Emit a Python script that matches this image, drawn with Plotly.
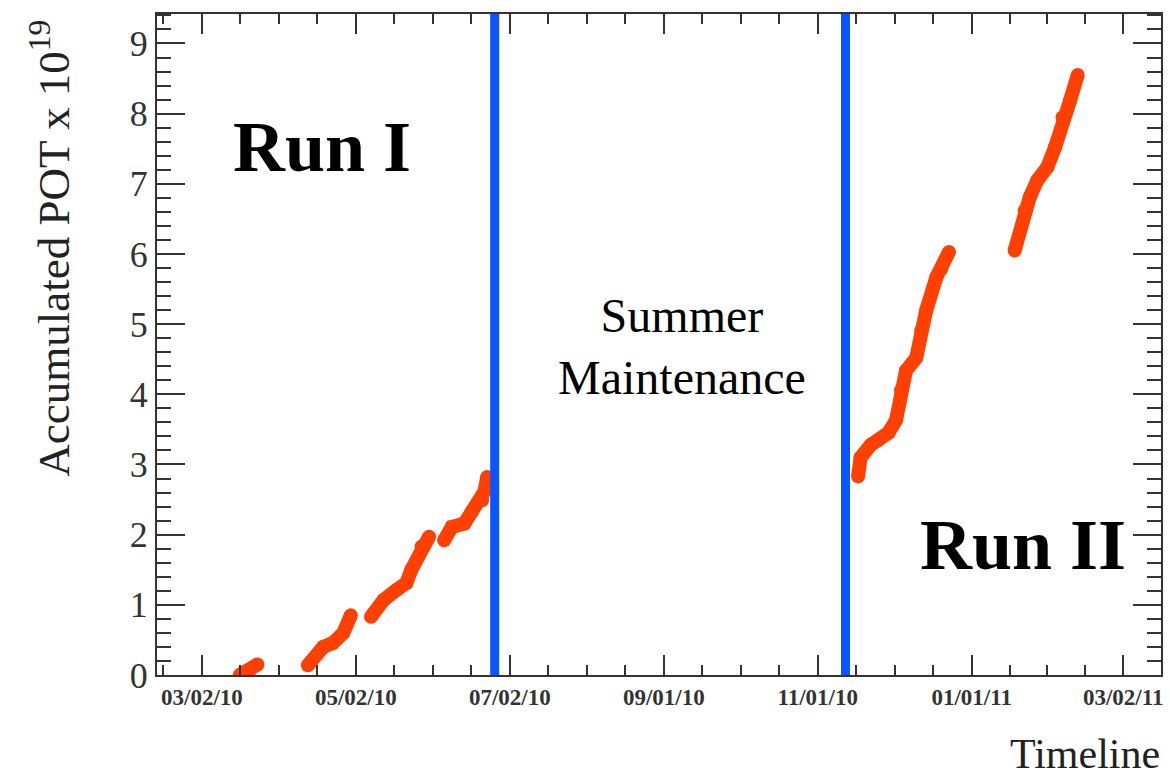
import pandas as pd
import plotly.graph_objects as go

# Accumulated protons on target (units of 1e19), one list per running period
run1a_dates = ["2010-03-17", "2010-03-21", "2010-03-24"]
run1a_pot = [0.00, 0.07, 0.15]

run1b_dates = ["2010-04-13", "2010-04-19", "2010-04-23", "2010-04-27", "2010-04-30"]
run1b_pot = [0.14, 0.40, 0.46, 0.60, 0.85]

run1c_dates = ["2010-05-08", "2010-05-13", "2010-05-18", "2010-05-22", "2010-05-24",
               "2010-05-28", "2010-05-31"]
run1c_pot = [0.83, 1.07, 1.21, 1.31, 1.50, 1.83, 1.97]

run1d_dates = ["2010-06-06", "2010-06-09", "2010-06-14", "2010-06-17", "2010-06-21",
               "2010-06-22", "2010-06-23"]
run1d_pot = [1.92, 2.11, 2.16, 2.33, 2.49, 2.62, 2.82]

run2a_dates = ["2010-11-17", "2010-11-18", "2010-11-22", "2010-11-25", "2010-11-29",
               "2010-12-02", "2010-12-04", "2010-12-06", "2010-12-10", "2010-12-12",
               "2010-12-14", "2010-12-18", "2010-12-20", "2010-12-23"]
run2a_pot = [2.83, 3.10, 3.28, 3.35, 3.45, 3.63, 4.06, 4.34, 4.52, 4.91,
             5.20, 5.67, 5.79, 6.03]

run2b_dates = ["2011-01-18", "2011-01-22", "2011-01-24", "2011-01-27", "2011-01-31",
               "2011-02-03", "2011-02-06", "2011-02-09", "2011-02-12"]
run2b_pot = [6.05, 6.62, 6.81, 7.05, 7.24, 7.52, 7.95, 8.19, 8.55]

segments = [
    (run1a_dates, run1a_pot), (run1b_dates, run1b_pot), (run1c_dates, run1c_pot),
    (run1d_dates, run1d_pot), (run2a_dates, run2a_pot), (run2b_dates, run2b_pot),
]

# Boundaries of the summer shutdown
shutdown_dates = ["2010-06-26", "2010-11-12"]

# Axis labelling
x_tick_dates = ["2010-03-02", "2010-05-02", "2010-07-02", "2010-09-01",
                "2010-11-01", "2011-01-01", "2011-03-02"]
x_tick_text = ["03/02/10", "05/02/10", "07/02/10", "09/01/10",
               "11/01/10", "01/01/11", "03/02/11"]
y_tick_vals = [0, 1, 2, 3, 4, 5, 6, 7, 8, 9]

x_range = ["2010-02-12 05:00", "2011-03-17 00:00"]
y_range = [0, 9.42]

POT_COLOR = "#ff4000"
LINE_COLOR = "#0a55ff"
SERIF = "Liberation Serif, Times New Roman, serif"

# Minor ticks: quarter divisions between labelled dates, plus one beyond each end
majors = pd.to_datetime(x_tick_dates)
minor_ticks = []
for a, b in zip(majors[:-1], majors[1:]):
    step = (b - a) / 4
    minor_ticks += [a + step * k for k in range(1, 4)]
first_step = (majors[1] - majors[0]) / 4
last_step = (majors[-1] - majors[-2]) / 4
minor_ticks = [majors[0] - first_step] + minor_ticks + [majors[-1] + last_step]
minor_ticks = [t.strftime("%Y-%m-%d %H:%M") for t in minor_ticks]

fig = go.Figure()

for dates, pot in segments:
    fig.add_trace(go.Scatter(
        x=dates, y=pot, mode="lines+markers",
        line=dict(color=POT_COLOR, width=14),
        marker=dict(color=POT_COLOR, size=14, line=dict(width=0)),
        showlegend=False, hoverinfo="x+y",
    ))

for d in shutdown_dates:
    fig.add_shape(type="line", xref="x", yref="paper", x0=d, x1=d, y0=0, y1=1,
                  line=dict(color=LINE_COLOR, width=9), layer="above")

W, H = 1170, 777
L, R, T, B = 157, 7, 14, 102
pw, ph = W - L - R, H - T - B


def to_paper(px, py):
    return (px - L) / pw, (H - B - py) / ph


labels = [
    ("<b>Run I</b>", 322, 147, 72),
    ("<b>Run II</b>", 1025, 545, 72),
    ("Summer<br>Maintenance", 683, 346, 48),
]

fig_annotations = []
for text, px, py, size in labels:
    ax, ay = to_paper(px, py)
    fig_annotations.append(dict(text=text, x=ax, y=ay, xref="paper", yref="paper",
                                xanchor="center", yanchor="middle", showarrow=False,
                                font=dict(size=size, family=SERIF, color="black")))

tx, ty = to_paper(1164, 754)
fig_annotations.append(dict(text="Timeline", x=tx, y=ty, xref="paper", yref="paper",
                            xanchor="right", yanchor="middle", showarrow=False,
                            font=dict(size=42, family=SERIF, color="#222")))
yx, yy = to_paper(50, 18)
fig_annotations.append(dict(text="Accumulated POT x 10<sup>19</sup>", x=yx, y=yy,
                            xref="paper", yref="paper", xanchor="center", yanchor="top",
                            textangle=-90, showarrow=False,
                            font=dict(size=45, family=SERIF, color="#222")))

fig.update_layout(
    width=W, height=H,
    margin=dict(l=L, r=R, t=T, b=B),
    paper_bgcolor="white", plot_bgcolor="white",
    annotations=fig_annotations,
    font=dict(family=SERIF, color="#222"),
)

fig.update_xaxes(
    type="date", range=x_range,
    tickmode="array", tickvals=x_tick_dates, ticktext=x_tick_text,
    tickfont=dict(size=23, family=SERIF, weight="bold", color="#333"),
    ticks="inside", ticklen=20, tickwidth=1.5, tickcolor="#333",
    minor=dict(tickmode="array", tickvals=minor_ticks, ticks="inside", ticklen=10,
               tickwidth=1.5, tickcolor="#333", showgrid=False),
    showline=True, linecolor="#333", linewidth=2, mirror="ticks",
    showgrid=False, zeroline=False,
)

fig.update_yaxes(
    range=y_range, tickmode="array", tickvals=y_tick_vals,
    tickfont=dict(size=36, family=SERIF, color="#333"),
    ticks="inside", ticklen=28, tickwidth=1.5, tickcolor="#333",
    minor=dict(dtick=0.2, tick0=0, ticks="inside", ticklen=14, tickwidth=1.5,
               tickcolor="#333", showgrid=False),
    showline=True, linecolor="#333", linewidth=2, mirror="ticks",
    showgrid=False, zeroline=False,
)

fig.write_html("out.html")
